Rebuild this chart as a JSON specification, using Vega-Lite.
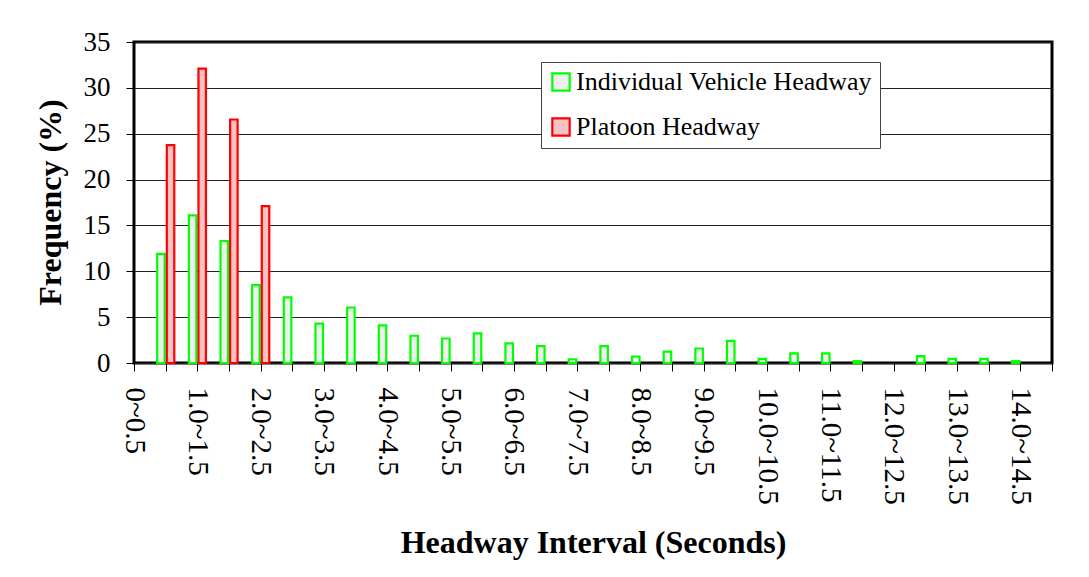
{
  "$schema": "https://vega.github.io/schema/vega-lite/v6.json",
  "width": 918,
  "height": 321,
  "autosize": "none",
  "padding": {"left": 134, "top": 42, "right": 37, "bottom": 214},
  "background": "white",
  "config": {
    "font": "Liberation Serif",
    "view": {"stroke": "black", "strokeWidth": 3},
    "axis": {
      "labelFont": "Liberation Serif",
      "titleFont": "Liberation Serif",
      "labelColor": "black",
      "titleColor": "black",
      "tickColor": "black",
      "tickWidth": 1,
      "tickSize": 8,
      "domain": false,
      "gridColor": "#222222",
      "gridWidth": 1,
      "gridOpacity": 1
    },
    "legend": {
      "labelFont": "Liberation Serif"
    }
  },
  "data": {
    "values": [
      {"interval": "0.5~1.0", "series": "Individual Vehicle Headway", "value": 11.9},
      {"interval": "1.0~1.5", "series": "Individual Vehicle Headway", "value": 16.1},
      {"interval": "1.5~2.0", "series": "Individual Vehicle Headway", "value": 13.3},
      {"interval": "2.0~2.5", "series": "Individual Vehicle Headway", "value": 8.5},
      {"interval": "2.5~3.0", "series": "Individual Vehicle Headway", "value": 7.15},
      {"interval": "3.0~3.5", "series": "Individual Vehicle Headway", "value": 4.3},
      {"interval": "3.5~4.0", "series": "Individual Vehicle Headway", "value": 6.05},
      {"interval": "4.0~4.5", "series": "Individual Vehicle Headway", "value": 4.1},
      {"interval": "4.5~5.0", "series": "Individual Vehicle Headway", "value": 2.97},
      {"interval": "5.0~5.5", "series": "Individual Vehicle Headway", "value": 2.67},
      {"interval": "5.5~6.0", "series": "Individual Vehicle Headway", "value": 3.22},
      {"interval": "6.0~6.5", "series": "Individual Vehicle Headway", "value": 2.13},
      {"interval": "6.5~7.0", "series": "Individual Vehicle Headway", "value": 1.83},
      {"interval": "7.0~7.5", "series": "Individual Vehicle Headway", "value": 0.41},
      {"interval": "7.5~8.0", "series": "Individual Vehicle Headway", "value": 1.83},
      {"interval": "8.0~8.5", "series": "Individual Vehicle Headway", "value": 0.71},
      {"interval": "8.5~9.0", "series": "Individual Vehicle Headway", "value": 1.25},
      {"interval": "9.0~9.5", "series": "Individual Vehicle Headway", "value": 1.58},
      {"interval": "9.5~10.0", "series": "Individual Vehicle Headway", "value": 2.42},
      {"interval": "10.0~10.5", "series": "Individual Vehicle Headway", "value": 0.46},
      {"interval": "10.5~11.0", "series": "Individual Vehicle Headway", "value": 1.04},
      {"interval": "11.0~11.5", "series": "Individual Vehicle Headway", "value": 1.04},
      {"interval": "11.5~12.0", "series": "Individual Vehicle Headway", "value": 0.2},
      {"interval": "12.5~13.0", "series": "Individual Vehicle Headway", "value": 0.74},
      {"interval": "13.0~13.5", "series": "Individual Vehicle Headway", "value": 0.46},
      {"interval": "13.5~14.0", "series": "Individual Vehicle Headway", "value": 0.46},
      {"interval": "14.0~14.5", "series": "Individual Vehicle Headway", "value": 0.2},
      {"interval": "0.5~1.0", "series": "Platoon Headway", "value": 23.75},
      {"interval": "1.0~1.5", "series": "Platoon Headway", "value": 32.1},
      {"interval": "1.5~2.0", "series": "Platoon Headway", "value": 26.55},
      {"interval": "2.0~2.5", "series": "Platoon Headway", "value": 17.1}
    ]
  },
  "encoding": {
    "x": {
      "field": "interval",
      "type": "ordinal",
      "sort": null,
      "scale": {
        "type": "point",
        "padding": 0,
        "domain": ["0~0.5", "0.5~1.0", "1.0~1.5", "1.5~2.0", "2.0~2.5", "2.5~3.0", "3.0~3.5", "3.5~4.0", "4.0~4.5", "4.5~5.0", "5.0~5.5", "5.5~6.0", "6.0~6.5", "6.5~7.0", "7.0~7.5", "7.5~8.0", "8.0~8.5", "8.5~9.0", "9.0~9.5", "9.5~10.0", "10.0~10.5", "10.5~11.0", "11.0~11.5", "11.5~12.0", "12.0~12.5", "12.5~13.0", "13.0~13.5", "13.5~14.0", "14.0~14.5", "14.5~15.0"]
      },
      "axis": {
        "title": "Headway Interval (Seconds)",
        "titleFontSize": 32,
        "titleFontWeight": "bold",
        "titleY": 189,
        "titleBaseline": "alphabetic",
        "labelAngle": 90,
        "labelAlign": "left",
        "labelBaseline": "middle",
        "labelFontSize": 29,
        "labelPadding": 16,
        "labelOverlap": false,
        "labelBound": false,
        "labelExpr": "test(/^[0-9]+\\.5~/, datum.value) ? '' : datum.value"
      }
    },
    "y": {
      "field": "value",
      "type": "quantitative",
      "scale": {"domain": [0, 35], "nice": false},
      "axis": {
        "title": "Frequency (%)",
        "titleFontSize": 32,
        "titleFontWeight": "bold",
        "titleX": -84,
        "titleY": 160,
        "titleBaseline": "middle",
        "titleAngle": -90,
        "values": [0, 5, 10, 15, 20, 25, 30, 35],
        "labelFontSize": 27,
        "labelPadding": 16,
        "grid": true
      }
    },
    "fill": {
      "field": "series",
      "type": "nominal",
      "scale": {"domain": ["Individual Vehicle Headway", "Platoon Headway"], "range": ["#efefef", "#f7c2c2"]},
      "legend": {
        "title": null,
        "orient": "none",
        "legendX": 407,
        "legendY": 20,
        "fillColor": "white",
        "strokeColor": "#444444",
        "padding": 7,
        "labelFont": "Liberation Serif",
        "labelFontSize": 26,
        "labelColor": "black",
        "labelLimit": 400,
        "symbolType": "square",
        "symbolSize": 300,
        "symbolStrokeWidth": 2.2,
        "rowPadding": 17,
        "labelOffset": 2
      }
    },
    "stroke": {
      "field": "series",
      "type": "nominal",
      "scale": {"domain": ["Individual Vehicle Headway", "Platoon Headway"], "range": ["#00ff00", "#ff0000"]},
      "legend": {
        "title": null,
        "orient": "none",
        "legendX": 407,
        "legendY": 20,
        "fillColor": "white",
        "strokeColor": "#444444",
        "padding": 7,
        "labelFont": "Liberation Serif",
        "labelFontSize": 26,
        "labelColor": "black",
        "labelLimit": 400,
        "symbolType": "square",
        "symbolSize": 300,
        "symbolStrokeWidth": 2.2,
        "rowPadding": 17,
        "labelOffset": 2
      }
    }
  },
  "layer": [
    {
      "transform": [{"filter": "datum.series === 'Individual Vehicle Headway'"}],
      "mark": {"type": "bar", "width": 7.5, "xOffset": -4.7, "strokeWidth": 2.2, "opacity": 1}
    },
    {
      "transform": [{"filter": "datum.series === 'Platoon Headway'"}],
      "mark": {"type": "bar", "width": 7.5, "xOffset": 4.9, "strokeWidth": 2.2, "opacity": 1}
    }
  ]
}
